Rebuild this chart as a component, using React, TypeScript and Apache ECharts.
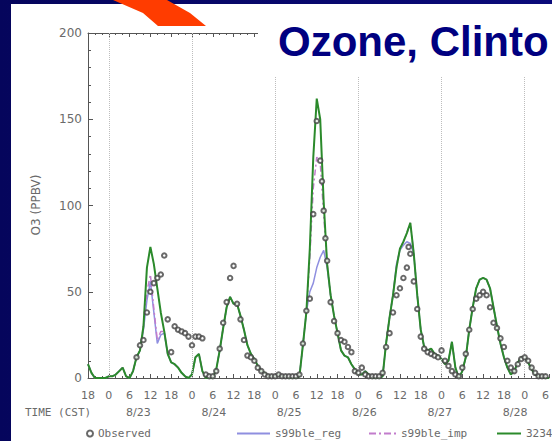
import { useEffect, useRef } from "react";
import * as echarts from "echarts";

// Time axis: hours counted from 8/22 18:00 CST (index of each model array = hour)
const dateLabels = ["8/23", "8/24", "8/25", "8/26", "8/27", "8/28"];
const dateSlots = [0, 1, 2, 3, 4, 5];
const dateAxisRange = [-0.67, 5.45];
const dayStartHours = [6, 30, 54, 78, 102, 126];

const seriesNames = ["Observed", "s99ble_reg", "s99ble_imp", "3234"];

const model3234 = [
  8, 3, 0, 0, 0, 0, 1, 1, 2, 4,
  6, 1, 0, 4, 12, 16, 30, 64, 76, 66,
  52, 38, 27, 14, 9, 8, 6, 3, 1, 0,
  2, 12, 14, 4, 0, 0, 0, 5, 16, 29,
  41, 47, 43, 43, 36, 28, 19, 14, 11, 7,
  4, 3, 1, 1, 1, 2, 1, 1, 0, 0,
  0, 1, 19, 38, 75, 128, 162, 150, 102, 66,
  48, 36, 26, 16, 13, 12, 8, 5, 2, 2,
  4, 2, 0, 0, 0, 1, 20, 35, 48, 64,
  75, 79, 84, 90, 72, 48, 28, 18, 16, 17,
  14, 13, 11, 8, 10, 21, 6, 0, 4, 12,
  28, 41, 52, 57, 58, 57, 52, 41, 30, 20,
  12, 6, 2, 4, 9, 12, 12, 9, 5, 2,
  1, 1, 0, 0,
];

const s99bleReg = [
  8, 3, 0, 0, 0, 0, 1, 1, 2, 4,
  6, 1, 0, 4, 12, 16, 28, 45, 56, 38,
  20, 25, 26, 14, 9, 8, 6, 3, 1, 0,
  2, 12, 14, 4, 0, 0, 0, 5, 16, 29,
  41, 47, 43, 43, 36, 28, 19, 14, 11, 7,
  4, 3, 1, 1, 1, 2, 1, 1, 0, 0,
  0, 1, 19, 38, 50, 55, 64, 70, 74, 64,
  48, 36, 26, 16, 13, 12, 8, 5, 2, 2,
  4, 2, 0, 0, 0, 1, 20, 35, 48, 66,
  74, 77, 79, 78, 72, 48, 28, 18, 16, 17,
  14, 13, 11, 8, 10, 21, 6, 0, 4, 12,
  28, 41, 52, 57, 58, 57, 52, 41, 30, 20,
  12, 6, 2, 4, 9, 12, 12, 9, 5, 2,
  1, 1, 0, 0,
];

const s99bleImp = [
  8, 3, 0, 0, 0, 0, 1, 1, 2, 4,
  6, 1, 0, 4, 12, 16, 30, 50, 60, 40,
  22, 27, 27, 14, 9, 8, 6, 3, 1, 0,
  2, 12, 14, 4, 0, 0, 0, 5, 16, 29,
  41, 47, 43, 43, 36, 28, 19, 14, 11, 7,
  4, 3, 1, 1, 1, 2, 1, 1, 0, 0,
  0, 1, 19, 38, 70, 110, 128, 125, 95, 66,
  48, 36, 26, 16, 13, 12, 8, 5, 2, 2,
  4, 2, 0, 0, 0, 1, 20, 35, 48, 64,
  75, 79, 84, 90, 72, 48, 28, 18, 16, 17,
  14, 13, 11, 8, 10, 21, 6, 0, 4, 12,
  28, 41, 52, 57, 58, 57, 52, 41, 30, 20,
  12, 6, 2, 4, 9, 12, 12, 9, 5, 2,
  1, 1, 0, 0,
];

const obsHours = [
  14, 15, 16, 17, 18, 19,
  20, 21, 22, 23, 24, 25, 26, 27, 28, 29, 30, 31, 32, 33, 34, 35, 36, 37, 38, 39,
  40, 41, 42, 43, 44, 45, 46, 47, 48, 49, 50, 51, 52, 53, 54, 55, 56, 57, 58, 59,
  60, 61, 62, 63, 64, 65, 66, 67, 67.5, 68, 68.5, 69, 70, 71, 72, 73, 74, 75, 76, 77,
  78, 79, 80, 81, 82, 83, 84, 85, 86, 87, 88, 89, 90, 91, 92, 92.5, 93, 94, 95, 96,
  97, 98, 99, 100, 101, 102, 103, 104, 105, 106, 107, 108, 109, 110, 111, 112, 113, 114, 115, 116,
  117, 118, 119, 120, 121, 122, 123, 124, 125, 126, 127, 128, 129, 130, 131, 132,
];
const obsValues = [
  12, 19, 22, 38, 50, 55,
  58, 60, 71, 34, 15, 30, 28, 27, 26, 24, 19, 24, 24, 23, 2, 1, 1, 4, 17, 32,
  44, 58, 65, 43, 34, 22, 13, 12, 10, 6, 4, 2, 1, 1, 1, 2, 1, 1, 1, 1,
  1, 2, 20, 39, 46, 95, 149, 126, 114, 97, 81, 68, 44, 33, 26, 22, 21, 18, 15, 4,
  3, 6, 2, 1, 1, 1, 1, 3, 18, 26, 38, 48, 52, 58, 64, 76, 72, 56, 40, 24,
  17, 15, 14, 13, 12, 16, 10, 7, 4, 2, 1, 6, 14, 28, 40, 46, 48, 50, 48, 41,
  32, 29, 23, 18, 10, 6, 4, 8, 11, 12, 10, 6, 3, 1, 1, 1,
];

const axisGray = "#555";
const labelGray = "#6a6a6a";
const sans = '"DejaVu Sans", "Liberation Sans", sans-serif';
const mono = '"DejaVu Sans Mono", "Liberation Mono", monospace';

const hourLabel = (v: number) => (v % 6 === 0 ? `${(v + 18) % 24}` : "");

const toPairs = (arr: number[]) => arr.map((v, i) => [i, v]);

const legendText = { color: labelGray, fontFamily: mono, fontSize: 11 };
const dashDotIcon = "path://M0,0H7V2H0Z M10,0H12V2H10Z M15,0H22V2H15Z M25,0H27V2H25Z";

const option: any = {
  animation: false,
  backgroundColor: "transparent",
  grid: { left: 88, top: 33, right: 0, bottom: 63 },
  xAxis: [
    {
      type: "value",
      position: "bottom",
      min: 0,
      max: 133,
      interval: 6,
      axisLine: { show: true, lineStyle: { color: axisGray, width: 1 } },
      axisTick: { show: true, inside: true, length: 4, lineStyle: { color: axisGray } },
      minorTick: { show: true, splitNumber: 3, length: 2, lineStyle: { color: axisGray } },
      axisLabel: {
        color: labelGray,
        fontFamily: sans,
        fontSize: 11,
        lineHeight: 14,
        margin: 10,
        showMaxLabel: false,
        formatter: hourLabel,
      },
      splitLine: { show: false },
    },
    {
      type: "value",
      position: "top",
      min: 0,
      max: 133,
      interval: 6,
      axisLine: { show: true, lineStyle: { color: axisGray, width: 1 } },
      axisTick: { show: true, inside: true, length: 4, lineStyle: { color: axisGray } },
      minorTick: { show: true, splitNumber: 3, length: 2, lineStyle: { color: axisGray } },
      axisLabel: { show: false },
      splitLine: { show: false },
    },
    {
      type: "value",
      position: "bottom",
      min: dateAxisRange[0],
      max: dateAxisRange[1],
      axisLine: { show: false },
      axisTick: { show: false },
      splitLine: { show: false },
      axisLabel: {
        customValues: dateSlots,
        color: labelGray,
        fontFamily: sans,
        fontSize: 11,
        lineHeight: 14,
        margin: 27,
        formatter: (v: number) => dateLabels[Math.round(v)] ?? "",
      },
    },
  ],
  yAxis: {
    type: "value",
    min: 0,
    max: 200,
    interval: 50,
    axisLine: { show: true, lineStyle: { color: axisGray, width: 1 } },
    axisTick: { show: true, inside: true, length: 5, lineStyle: { color: axisGray } },
    minorTick: { show: true, splitNumber: 5, length: 3, lineStyle: { color: axisGray } },
    axisLabel: { color: labelGray, fontFamily: sans, fontSize: 12, margin: 6 },
    splitLine: { show: false },
  },
  legend: [
    { data: [seriesNames[0]], left: 81, top: 423, itemWidth: 6, itemHeight: 6, selectedMode: false, textStyle: legendText },
    { data: [{ name: seriesNames[1], icon: "rect" }], left: 232, top: 423, itemWidth: 33, itemHeight: 2, selectedMode: false, textStyle: legendText },
    { data: [{ name: seriesNames[2], icon: dashDotIcon }], left: 364, top: 423, itemWidth: 27, itemHeight: 2, selectedMode: false, textStyle: legendText },
    { data: [{ name: seriesNames[3], icon: "rect" }], left: 492, top: 423, itemWidth: 24, itemHeight: 2, selectedMode: false, textStyle: legendText },
  ],
  series: [
    {
      name: seriesNames[1],
      type: "line",
      data: toPairs(s99bleReg),
      symbol: "none",
      lineStyle: { color: "#8f8fe0", width: 1.5 },
      itemStyle: { color: "#8f8fe0" },
      markLine: {
        silent: true,
        symbol: ["none", "none"],
        label: { show: false },
        lineStyle: { type: "dotted", color: "#bdbdbd", width: 1 },
        data: dayStartHours.map((h) => ({ xAxis: h })),
      },
    },
    {
      name: seriesNames[2],
      type: "line",
      data: toPairs(s99bleImp),
      symbol: "none",
      lineStyle: { color: "#c27ccc", width: 1.5, type: [6, 3, 2, 3] },
      itemStyle: { color: "#c27ccc" },
    },
    {
      name: seriesNames[3],
      type: "line",
      data: toPairs(model3234),
      symbol: "none",
      lineStyle: { color: "#2b8a2b", width: 2 },
      itemStyle: { color: "#2b8a2b" },
    },
    {
      name: seriesNames[0],
      type: "scatter",
      data: obsHours.map((h, i) => [h, obsValues[i]]),
      symbol: "emptyCircle",
      symbolSize: 4.5,
      itemStyle: { color: "#444", borderColor: "#444", borderWidth: 1 },
      z: 5,
    },
  ],
  graphic: [
    {
      type: "rect",
      z: 100,
      shape: { x: 258, y: 4, width: 300, height: 72 },
      style: { fill: "#ffffff" },
    },
    {
      type: "text",
      z: 101,
      x: 278,
      y: 41,
      style: {
        text: "Ozone, Clinto",
        fill: "#000080",
        font: 'bold 42px "Liberation Sans", Arial, sans-serif',
        align: "left",
        verticalAlign: "middle",
      },
    },
    {
      type: "polygon",
      z: 102,
      shape: {
        points: [
          [101, -5], [113, 0], [143, 13], [158, 26], [206, 26], [190, 13], [167, 0], [159, -5],
        ],
      },
      style: { fill: "#ff3c00" },
    },
    {
      type: "text",
      z: 101,
      x: 36,
      y: 205,
      rotation: Math.PI / 2,
      style: {
        text: "O3 (PPBV)",
        fill: labelGray,
        font: `12px ${sans}`,
        align: "center",
        verticalAlign: "middle",
      },
    },
    {
      type: "text",
      z: 101,
      x: 25,
      y: 412,
      style: {
        text: "TIME (CST)",
        fill: labelGray,
        font: `11px ${mono}`,
        align: "left",
        verticalAlign: "middle",
      },
    },
  ],
};

export default function App() {
  const ref = useRef<HTMLDivElement>(null);
  useEffect(() => {
    const chart = echarts.init(ref.current!, null, { renderer: "svg" });
    chart.setOption(option);
    return () => chart.dispose();
  }, []);
  return (
    <div
      style={{
        position: "fixed",
        left: 0,
        top: 0,
        width: 552,
        height: 441,
        overflow: "hidden",
        background: "linear-gradient(90deg, #05055c 0%, #0a0a7a 100%)",
      }}
    >
      <div style={{ position: "absolute", left: 11, top: 4, right: 0, bottom: 0, background: "#ffffff" }} />
      <div ref={ref} style={{ position: "absolute", left: 0, top: 0, width: 552, height: 441 }} />
    </div>
  );
}
